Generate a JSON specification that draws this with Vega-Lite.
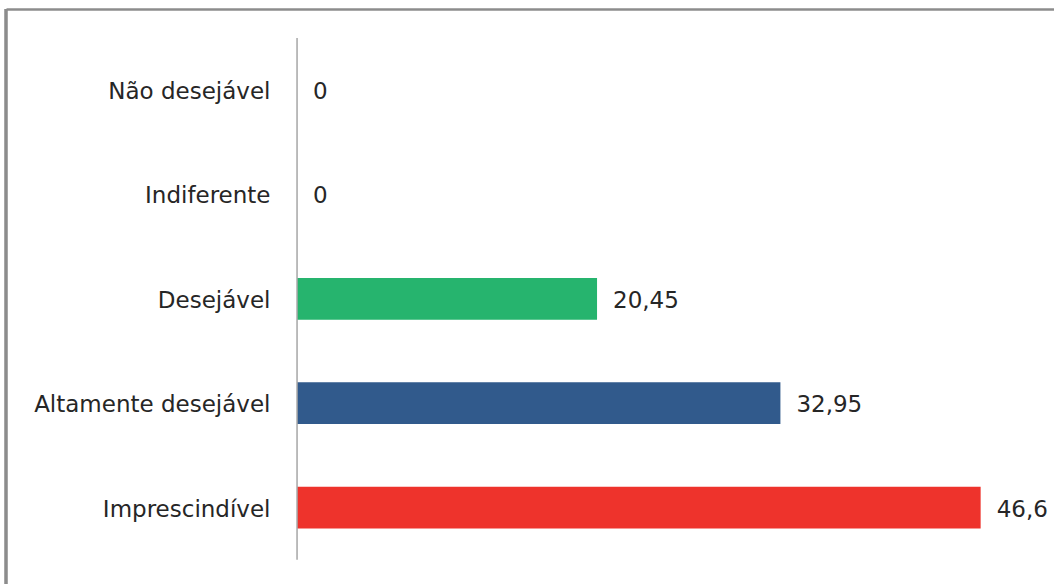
{
  "$schema": "https://vega.github.io/schema/vega-lite/v6.json",
  "autosize": "none",
  "width": 1048,
  "height": 575,
  "padding": {"left": 6, "top": 9, "right": 0, "bottom": 0},
  "background": "#ffffff",
  "data": {"values": [
    {"categoria": "Não desejável", "valor": 0},
    {"categoria": "Indiferente", "valor": 0},
    {"categoria": "Desejável", "valor": 20.45},
    {"categoria": "Altamente desejável", "valor": 32.95},
    {"categoria": "Imprescindível", "valor": 46.6}
  ]},
  "config": {
    "view": {"stroke": null},
    "locale": {"number": {"decimal": ",", "thousands": ".", "grouping": [3], "currency": ["", ""]}},
    "font": "DejaVu Sans"
  },
  "layer": [
    {
      "mark": {"type": "bar"},
      "encoding": {
        "y": {
          "field": "categoria",
          "type": "nominal",
          "sort": ["Não desejável", "Indiferente", "Desejável", "Altamente desejável", "Imprescindível"],
          "scale": {"paddingInner": 0.6, "paddingOuter": 0.554, "align": 0.52},
          "axis": {
            "title": null,
            "offset": -291,
            "domain": false,
            "ticks": false,
            "labelPadding": 27,
            "labelFont": "DejaVu Sans",
            "labelFontSize": 23,
            "labelColor": "#262626",
            "labelLimit": 400,
            "labelOffset": 2
          }
        },
        "x": {
          "field": "valor",
          "type": "quantitative",
          "scale": {"domain": [-19.84, 51.6], "nice": false, "zero": false},
          "axis": {
            "orient": "top",
            "title": null,
            "labels": false,
            "ticks": false,
            "grid": false,
            "domain": true,
            "domainColor": "#8c8c8c",
            "domainWidth": 2.5
          }
        },
        "color": {
          "field": "categoria",
          "type": "nominal",
          "scale": {
            "domain": ["Não desejável", "Indiferente", "Desejável", "Altamente desejável", "Imprescindível"],
            "range": ["#26b46e", "#26b46e", "#26b46e", "#315a8c", "#ee332c"]
          },
          "legend": null
        }
      }
    },
    {
      "transform": [{"filter": "datum.categoria == 'Imprescindível'"}],
      "mark": {"type": "rule", "color": "#a6a6a6", "strokeWidth": 1.5},
      "encoding": {
        "x": {"datum": 0, "type": "quantitative"},
        "y": {"datum": "Não desejável", "type": "nominal", "bandPosition": -0.7488},
        "y2": {"datum": "Imprescindível", "bandPosition": 1.7488}
      }
    },
    {
      "mark": {"type": "text", "align": "left", "baseline": "middle", "dx": 16, "dy": 2, "font": "DejaVu Sans", "fontSize": 23, "color": "#262626"},
      "encoding": {
        "y": {"field": "categoria", "type": "nominal", "sort": ["Não desejável", "Indiferente", "Desejável", "Altamente desejável", "Imprescindível"]},
        "x": {"field": "valor", "type": "quantitative"},
        "text": {"field": "valor", "type": "quantitative", "format": ".2~f"}
      }
    },
    {
      "mark": {"type": "rule", "color": "#8c8c8c", "strokeWidth": 2.5},
      "encoding": {
        "x": {"datum": -19.84, "type": "quantitative"}
      }
    }
  ]
}
